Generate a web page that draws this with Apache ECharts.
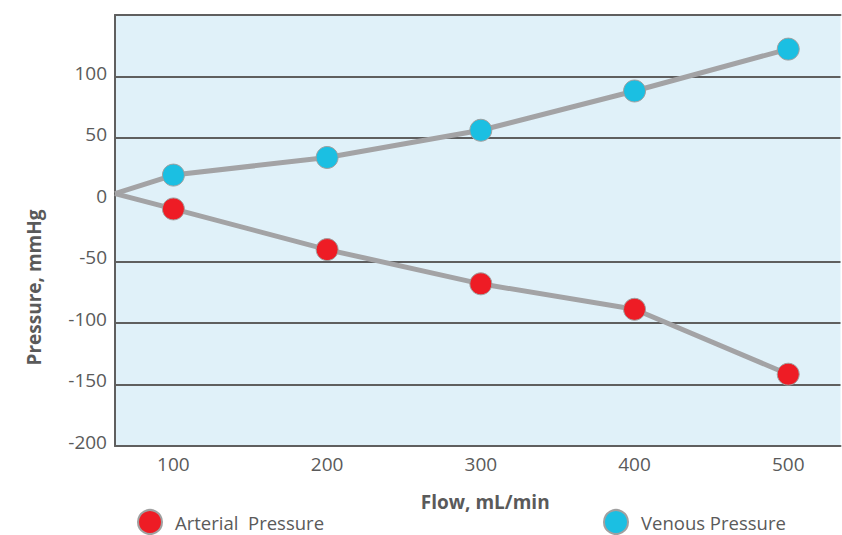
<!DOCTYPE html>
<html>
<head>
<meta charset="utf-8">
<script src="https://cdn.jsdelivr.net/npm/echarts@6/dist/echarts.min.js"></script>
<style>
html,body{margin:0;padding:0;background:#fff;}
#chart{width:842px;height:535px;}
</style>
</head>
<body>
<div id="chart"></div>
<script>
// Data
var flowTicks = [100, 200, 300, 400, 500];
var flow = [62, 100, 200, 300, 400, 500];
var arterial = [5, -7.5, -40.5, -68.3, -89, -141.7];
var venous = [5, 20, 34.3, 56.4, 88.3, 122.3];
var gridValues = [100, 50, -50, -100, -150];
var xMin = 62, xMax = 534;
var yMin = -200, yMax = 150, yStep = 50;

function pts(ys) {
  return flow.map(function (x, i) {
    var d = { value: [x, ys[i]] };
    if (i === 0) { d.symbol = 'none'; }
    return d;
  });
}

var textColor = '#5a5a5a';
var axisColor = '#5f5f5f';
var font = 'Open Sans';

var chart = echarts.init(document.getElementById('chart'), null, { renderer: 'svg' });
chart.setOption({
  animation: false,
  grid: {
    left: 115, right: 1.5, top: 15, bottom: 89,
    show: true, backgroundColor: '#e0f1f9', borderWidth: 0
  },
  legend: [
    {
      data: ['Arterial  Pressure'], left: 132, top: 504, icon: 'circle',
      itemWidth: 24, itemHeight: 24,
      textStyle: { color: textColor, fontSize: 18.5, fontFamily: font, padding: [0, 0, 0, 8] }
    },
    {
      data: ['Venous Pressure'], left: 598, top: 504, icon: 'circle',
      itemWidth: 24, itemHeight: 24,
      textStyle: { color: textColor, fontSize: 18.5, fontFamily: font, padding: [0, 0, 0, 8] }
    }
  ],
  xAxis: [
    {
      type: 'value', min: xMin, max: xMax,
      name: 'Flow, mL/min', nameLocation: 'middle', nameGap: 46,
      nameTextStyle: { color: textColor, fontSize: 19, fontWeight: 'bold', fontFamily: font, padding: [0, 0, 0, 15] },
      axisLine: { show: true, onZero: false, lineStyle: { color: axisColor, width: 2 } },
      axisTick: { show: false },
      splitLine: { show: false },
      axisLabel: { customValues: flowTicks, color: textColor, fontSize: 19, fontFamily: font, margin: 8 }
    },
    {
      type: 'value', position: 'top', min: xMin, max: xMax,
      axisLine: { show: true, onZero: false, lineStyle: { color: axisColor, width: 2 } },
      axisTick: { show: false }, axisLabel: { show: false }, splitLine: { show: false }
    }
  ],
  yAxis: {
    type: 'value', min: yMin, max: yMax, interval: yStep,
    name: 'Pressure, mmHg', nameLocation: 'middle', nameGap: 72, nameRotate: 90,
    nameTextStyle: { color: textColor, fontSize: 19, fontWeight: 'bold', fontFamily: font, padding: [0, 114, 0, 0] },
    axisLine: { show: true, onZero: false, lineStyle: { color: axisColor, width: 2 } },
    axisTick: { show: false },
    splitLine: { show: false },
    axisLabel: {
      margin: 8,
      formatter: function (v) { return v === yMax ? '' : '{t|' + v + '}'; },
      rich: {
        t: { color: textColor, fontSize: 19, fontFamily: font, padding: [0, 0, 8, 0] }
      }
    }
  },
  series: [
    {
      name: 'Arterial  Pressure', type: 'line', data: pts(arterial),
      symbol: 'circle', symbolSize: 22, z: 3,
      lineStyle: { color: '#a3a3a5', width: 5 },
      itemStyle: { color: '#ee1c25', borderColor: '#a0a0a0', borderWidth: 1 },
      markLine: {
        silent: true, symbol: 'none', label: { show: false }, z: 1,
        lineStyle: { color: axisColor, width: 2, type: 'solid' },
        data: gridValues.map(function (v) { return { yAxis: v }; })
      }
    },
    {
      name: 'Venous Pressure', type: 'line', data: pts(venous),
      symbol: 'circle', symbolSize: 22, z: 3,
      lineStyle: { color: '#a3a3a5', width: 5 },
      itemStyle: { color: '#1bbfe2', borderColor: '#a0a0a0', borderWidth: 1 }
    }
  ]
});
</script>
</body>
</html>
